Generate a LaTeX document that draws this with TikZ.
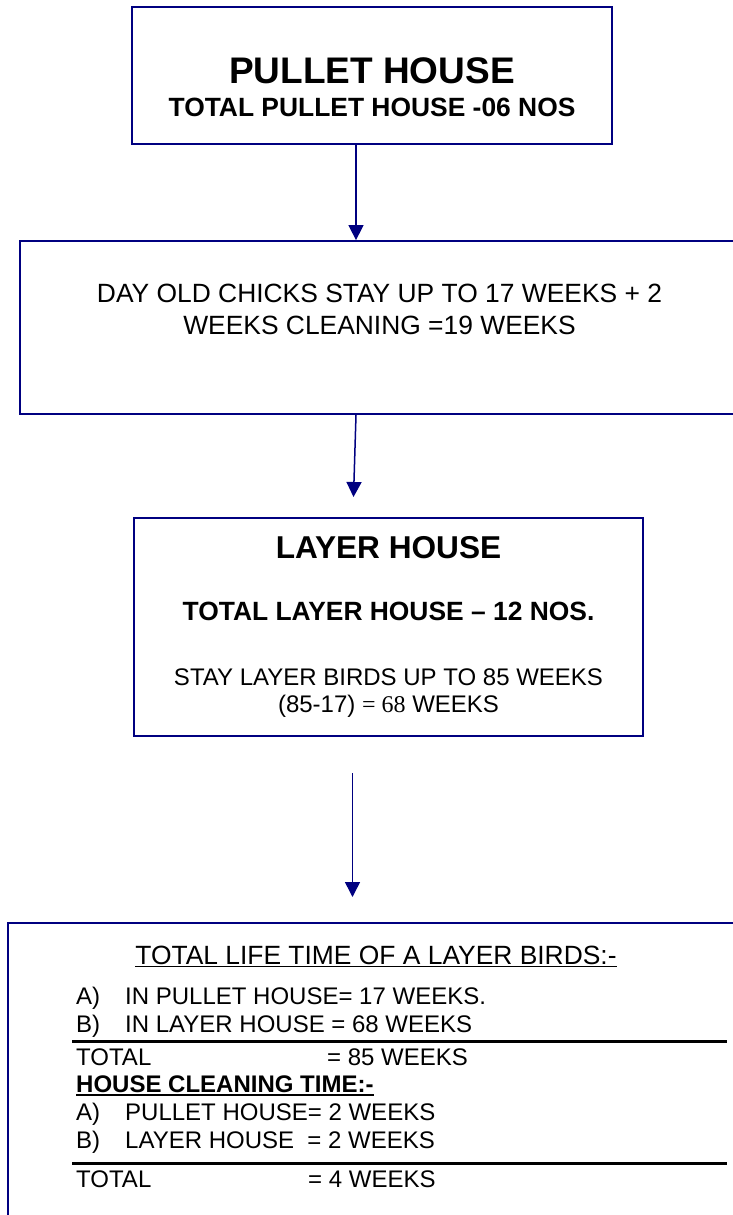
\documentclass[tikz,border=0pt]{standalone}
\usepackage{fontspec}
\setmainfont{Liberation Sans}
\newfontfamily\timesfont{Liberation Serif}
\usetikzlibrary{arrows.meta, positioning}
\definecolor{navy}{RGB}{0,0,128}
\newcommand{\fsz}[1]{\fontsize{#1}{#1}\selectfont}
\tikzstyle{hbox} = [draw=navy, line width=1.8pt, inner sep=0pt]
\tikzstyle{txt} = [inner sep=0pt, anchor=base]
\tikzstyle{ltxt} = [inner sep=0pt, anchor=base west, font=\fsz{24}]
\tikzstyle{flow} = [draw=navy, line width=1.5pt, -{Triangle[width=15pt,length=15pt]}]
\tikzstyle{sumline} = [draw, line width=3.5pt]
\tikzstyle{uline} = [draw, line width=1.8pt]

\begin{document}
\begin{tikzpicture}[x=1pt, y=-1pt]
	\useasboundingbox (0,0) rectangle (732,1215);

	% houses
	\node [hbox, minimum width=480pt, minimum height=137pt] (pullet) at (372,75.5) {};
	\node [hbox, minimum width=719pt, minimum height=173pt] (chicks) at (379.5,327.5) {};
	\node [hbox, minimum width=509pt, minimum height=218pt] (layer) at (388.5,627) {};
	\node [hbox, minimum width=736pt, minimum height=330pt] (life) at (376,1088) {};

	\node [txt, font=\fsz{37}\bfseries] (ph) at (372,83) {PULLET HOUSE};
	\node [txt, font=\fsz{26.4}\bfseries] (phno) at (372,116) {TOTAL PULLET HOUSE -06 NOS};

	\node [txt, font=\fsz{26.4}] (doc1) at (379.5,302.7) {DAY OLD CHICKS STAY UP TO 17 WEEKS + 2};
	\node [txt, font=\fsz{26.4}] (doc2) at (379.5,334) {WEEKS CLEANING =19 WEEKS};

	\node [txt, font=\fsz{31.6}\bfseries] (lh) at (388.5,558.3) {LAYER HOUSE};
	\node [txt, font=\fsz{26.4}\bfseries] (lhno) at (388.5,620.7) {TOTAL LAYER HOUSE -- 12 NOS.};
	\node [txt, font=\fsz{24}] (stay) at (388.5,685) {STAY LAYER BIRDS UP TO 85 WEEKS};
	\node [txt, font=\fsz{24}] (calc) at (388.5,712.7) {(85-17) {\timesfont = 68} WEEKS};

	% life time
	\node [txt, font=\fsz{26.4}] (ttl) at (376,964) {TOTAL LIFE TIME OF A LAYER BIRDS:-};
	\draw [uline] ([yshift=-2.5pt]ttl.base west) -- ([yshift=-2.5pt]ttl.base east);

	\node [ltxt] (pa) at (76,1004) {A)};
	\node [ltxt] (pat) at (125,1004) {IN PULLET HOUSE= 17 WEEKS.};
	\node [ltxt] (pb) at (76,1032) {B)};
	\node [ltxt] (pbt) at (125,1032) {IN LAYER HOUSE = 68 WEEKS};
	\draw [sumline] (72,1041.7) -- (727,1041.7);
	\node [ltxt] (tot1) at (76,1065) {TOTAL};
	\node [ltxt] (tot1v) at (327,1065) {= 85 WEEKS};

	\node [ltxt, font=\fsz{24}\bfseries] (hct) at (76,1092.3) {HOUSE CLEANING TIME:-};
	\draw [uline] ([yshift=-2.5pt]hct.base west) -- ([yshift=-2.5pt]hct.base east);
	\node [ltxt] (ca) at (76,1120.7) {A)};
	\node [ltxt] (cat) at (125,1120.7) {PULLET HOUSE= 2 WEEKS};
	\node [ltxt] (cb) at (76,1148.7) {B)};
	\node [ltxt] (cbt) at (125,1148.7) {LAYER HOUSE~~= 2 WEEKS};
	\draw [sumline] (72,1163.3) -- (727,1163.3);
	\node [ltxt] (tot2) at (76,1187.7) {TOTAL};
	\node [ltxt] (tot2v) at (308,1187.7) {= 4 WEEKS};

	% arrows
	\coordinate (a1) at (356,0);
	\coordinate (a2) at (353.5,497);
	\coordinate (a3s) at (352.5,773);
	\coordinate (a3e) at (352.5,897);
	\path [flow] (pullet.south -| a1) -- (chicks.north -| a1);
	\path [flow] (chicks.south -| a1) -- (a2);
	\path [flow] (a3s) -- (a3e);
\end{tikzpicture}
\end{document}
